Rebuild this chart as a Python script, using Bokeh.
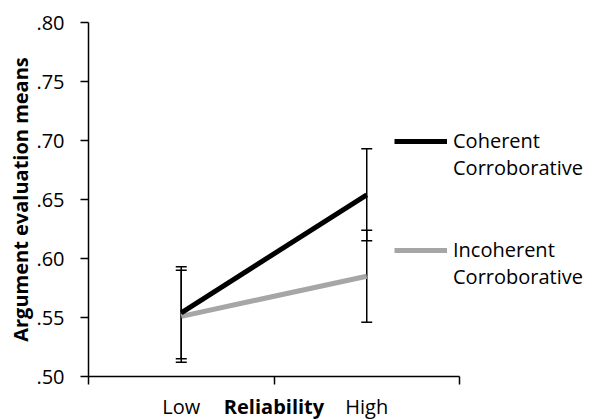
import math
from bokeh.plotting import figure
from bokeh.models import (Range1d, FixedTicker, CustomJSTickFormatter, Whisker,
                          ColumnDataSource, TeeHead, Legend, LegendItem, Label)
from bokeh.embed import file_html
from bokeh.resources import INLINE

# ---- data ----
categories = ["Low", "High"]
coherent = [0.554, 0.654]
coherent_se = [0.039, 0.039]
incoherent = [0.551, 0.585]
incoherent_se = [0.039, 0.039]
y_ticks = [0.50, 0.55, 0.60, 0.65, 0.70, 0.75, 0.80]
series_names = [("Coherent", "Corroborative"), ("Incoherent", "Corroborative")]
x_title = "Reliability"
y_title = "Argument evaluation means"

FONT = "Open Sans"
BLACK = "#000000"
GRAY = "#A6A6A6"

# ---- layout (canvas pixels) ----
W, H = 592, 419
AX_LEFT, AX_RIGHT, AX_TOP, AX_BOTTOM = 88, 459, 22, 376
n = len(categories)
y0, y1 = y_ticks[0], y_ticks[-1]
ppx = (AX_RIGHT - AX_LEFT) / n
ppy = (AX_BOTTOM - AX_TOP) / (y1 - y0)
x_range = Range1d(-AX_LEFT / ppx, n + (W - AX_RIGHT) / ppx)
y_range = Range1d(y0 - (H - AX_BOTTOM) / ppy, y1 + AX_TOP / ppy)

xs = [i + 0.5 for i in range(n)]

p = figure(width=W, height=H, x_range=x_range, y_range=y_range,
           output_backend="svg", toolbar_location=None,
           min_border=0)
p.outline_line_color = None
p.grid.visible = False
p.background_fill_color = "white"
p.border_fill_color = "white"

# y axis (drawn at x = 0, limited to the value range)
ya = p.yaxis[0]
ya.fixed_location = 0
ya.bounds = (y0, y1)
ya.ticker = FixedTicker(ticks=y_ticks, minor_ticks=[])
ya.formatter = CustomJSTickFormatter(code="return tick.toFixed(2).replace(/^0/, '');")
ya.major_tick_in = 0
ya.major_tick_out = 8
ya.minor_tick_line_color = None
ya.axis_line_width = 1.5
ya.major_tick_line_width = 1.5
ya.axis_line_color = BLACK
ya.major_tick_line_color = BLACK
ya.major_label_text_font = FONT
ya.major_label_text_font_size = "20px"
ya.major_label_text_color = BLACK
ya.major_label_standoff = 16

# x axis (drawn at y = .50, ticks at category boundaries)
xa = p.xaxis[0]
xa.fixed_location = y0
xa.bounds = (0, n)
xa.ticker = FixedTicker(ticks=list(range(n + 1)), minor_ticks=[])
xa.formatter = CustomJSTickFormatter(code="return '';")
xa.major_tick_in = 0
xa.major_tick_out = 8
xa.minor_tick_line_color = None
xa.axis_line_width = 1.5
xa.major_tick_line_width = 1.5
xa.axis_line_color = BLACK
xa.major_tick_line_color = BLACK

# lines
r_inc = p.line(xs, incoherent, line_color=GRAY, line_width=5)
r_coh = p.line(xs, coherent, line_color=BLACK, line_width=5)
dummy = p.line(xs, coherent, line_alpha=0)

# error bars
for vals, se in ((coherent, coherent_se), (incoherent, incoherent_se)):
    src = ColumnDataSource(dict(x=xs,
                                upper=[v + e for v, e in zip(vals, se)],
                                lower=[v - e for v, e in zip(vals, se)]))
    w = Whisker(source=src, base="x", upper="upper", lower="lower",
                line_width=1.5, line_color=BLACK,
                upper_head=TeeHead(size=11, line_width=1.5, line_color=BLACK),
                lower_head=TeeHead(size=11, line_width=1.5, line_color=BLACK))
    p.add_layout(w)

# category labels and axis titles
LABEL_Y = 13
for i, cat in enumerate(categories):
    p.add_layout(Label(x=i + 0.5, y=LABEL_Y, y_units="screen", text=cat,
                       text_align="center", text_baseline="alphabetic",
                       text_font=FONT, text_font_size="20px", text_color=BLACK))
p.add_layout(Label(x=n / 2, y=LABEL_Y, y_units="screen", text=x_title,
                   text_align="center", text_baseline="alphabetic",
                   text_font=FONT, text_font_size="20px", text_font_style="bold",
                   text_color=BLACK))
p.add_layout(Label(x=20, x_units="screen", y=(y0 + y1) / 2, text=y_title,
                   angle=math.pi / 2, text_align="center", text_baseline="middle",
                   text_font=FONT, text_font_size="20px", text_font_style="bold",
                   text_color=BLACK))

# legends
def make_legend(rend, names, vy):
    lg = Legend(items=[LegendItem(label=names[0], renderers=[rend]),
                       LegendItem(label=names[1], renderers=[dummy])],
                location=(394, vy), orientation="vertical",
                glyph_width=53, glyph_height=20, label_height=20,
                label_standoff=6, spacing=-3, padding=0, margin=0,
                border_line_color=None, background_fill_alpha=0,
                label_text_font=FONT, label_text_font_size="20px",
                label_text_color=BLACK)
    p.add_layout(lg)

make_legend(r_coh, series_names[0], 238)
make_legend(r_inc, series_names[1], 129)

open("out.html", "w").write(file_html(p, INLINE))
